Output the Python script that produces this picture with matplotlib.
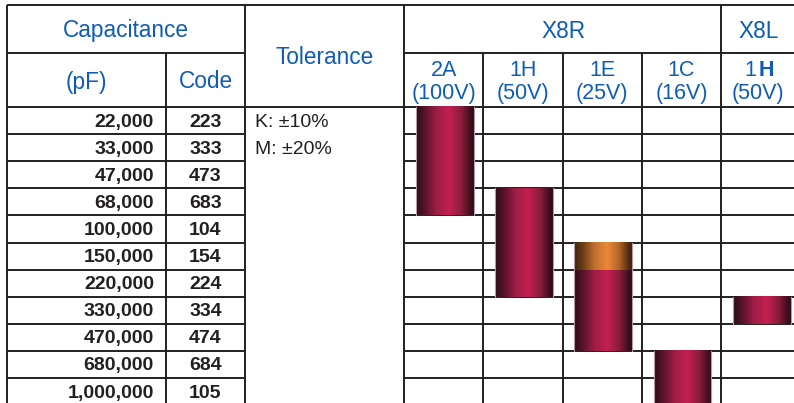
import numpy as np
import matplotlib.pyplot as plt
from matplotlib.colors import LinearSegmentedColormap

plt.rcParams['font.family'] = ['Liberation Sans', 'DejaVu Sans']

# table data
caps = ['22,000', '33,000', '47,000', '68,000', '100,000', '150,000',
        '220,000', '330,000', '470,000', '680,000', '1,000,000']
codes = ['223', '333', '473', '683', '104', '154', '224', '334', '474', '684', '105']
tolerances = ['K: \u00b110%', 'M: \u00b120%']

# rated voltage columns
volt_codes = ['2A', '1H', '1E', '1C', '1H']
volt_values = ['(100V)', '(50V)', '(25V)', '(16V)', '(50V)']
groups = ['X8R', 'X8L']
group_span = [4, 1]

# bar ranges (capacitance, first / last row) and the orange top part
bar_low = ['22,000', '68,000', '150,000', '680,000', '330,000']
bar_high = ['68,000', '220,000', '470,000', '1,000,000', '330,000']
orange_caps = [None, None, '150,000', None, None]

BLUE = '#0e5cb5'
INK = '#231f20'
LW = 1.4

# layout in pixels
W, H = 794, 403
left_x = [7, 166, 245, 404]
col_x0, col_w = 404, 79.3
row_y0, row_h = 107, 27.1
top_y, mid_y = 5, 53

fig = plt.figure(figsize=(W / 100, H / 100), dpi=100)
ax = fig.add_axes([0, 0, 1, 1])
ax.set_xlim(0, W)
ax.set_ylim(H, 0)
ax.axis('off')

n_rows = len(caps)
n_cols = len(volt_codes)
col_edges = [col_x0 + i * col_w for i in range(n_cols + 1)]
row_edges = [row_y0 + i * row_h for i in range(n_rows + 1)]


def hline(y, x0, x1):
    ax.plot([x0, x1], [y, y], color=INK, lw=LW, solid_capstyle='butt', zorder=1)


def vline(x, y0, y1):
    ax.plot([x, x], [y0, y1], color=INK, lw=LW, solid_capstyle='butt', zorder=1)


# grid lines
hline(top_y, left_x[0], W)
hline(mid_y, left_x[0], left_x[2])
hline(mid_y, col_x0, W)
for y in row_edges[:-1]:
    hline(y, left_x[0], left_x[2])
    hline(y, col_x0, W)
hline(row_y0, left_x[2], col_x0)
vline(left_x[0], top_y, H)
vline(left_x[1], mid_y, H)
vline(left_x[2], top_y, H)
vline(left_x[3], top_y, H)
gx = col_edges[0]
for span in group_span:
    gx = gx + span * col_w
    if gx < W:
        vline(gx, top_y, H)
for i in range(1, n_cols):
    if i not in np.cumsum(group_span):
        vline(col_edges[i], mid_y, H)

# header text
ax.text((left_x[0] + left_x[2]) / 2, 30, 'Capacitance', color=BLUE, fontsize=16.3,
        ha='center', va='center')
ax.text((left_x[0] + left_x[1]) / 2, 82, '(pF)', color=BLUE, fontsize=16.3,
        ha='center', va='center')
ax.text((left_x[1] + left_x[2]) / 2, 82, 'Code', color=BLUE, fontsize=16.3,
        ha='center', va='center')
ax.text((left_x[2] + left_x[3]) / 2, 57, 'Tolerance', color=BLUE, fontsize=16.3,
        ha='center', va='center')
start = 0
for g, span in zip(groups, group_span):
    cx = (col_edges[start] + min(col_edges[start + span], W)) / 2
    ax.text(cx + 1, 31, g, color=BLUE, fontsize=16.3, ha='center', va='center')
    start += span
for i, (vc, vv) in enumerate(zip(volt_codes, volt_values)):
    cx = (col_edges[i] + min(col_edges[i + 1], W)) / 2
    if i < group_span[0]:
        ax.text(cx, 70, vc, color=BLUE, fontsize=15.5, ha='center', va='center')
    else:
        ax.text(cx - 1, 71, vc[0], color=BLUE, fontsize=15.5, ha='right', va='center')
        ax.text(cx + 1, 71, vc[1:], color=BLUE, fontsize=15.5, fontweight='bold',
                ha='left', va='center')
    ax.text(cx, 93, vv, color=BLUE, fontsize=15.5, ha='center', va='center')

# body text
for r, (c, code) in enumerate(zip(caps, codes)):
    cy = row_edges[r] + row_h / 2 + 1.5
    ax.text(left_x[1] - 12, cy, c, color=INK, fontsize=14, fontweight='bold',
            ha='right', va='center')
    ax.text((left_x[1] + left_x[2]) / 2, cy, code, color=INK, fontsize=14,
            fontweight='bold', ha='center', va='center')
for r, t in enumerate(tolerances):
    ax.text(left_x[2] + 10, row_edges[r] + row_h / 2 + 1.5, t, color=INK, fontsize=14,
            ha='left', va='center')

# shaded cylinders
red_cmap = LinearSegmentedColormap.from_list('red', [
    (0.0, '#2e0c18'), (0.12, '#4c1226'), (0.35, '#9c1d46'), (0.58, '#c42050'),
    (0.78, '#8a1c3c'), (0.92, '#4a1022'), (1.0, '#2c0a16')])
orange_cmap = LinearSegmentedColormap.from_list('orange', [
    (0.0, '#3c2410'), (0.15, '#6a3c16'), (0.35, '#c06e2c'), (0.58, '#ea8a3a'),
    (0.78, '#b0642a'), (0.92, '#603414'), (1.0, '#382010')])
grad = np.linspace(0, 1, 256).reshape(1, -1)
bar_frac = 0.73

for i in range(n_cols):
    r0 = caps.index(bar_low[i])
    r1 = caps.index(bar_high[i])
    cx = (col_edges[i] + col_edges[i + 1]) / 2
    x0 = cx - bar_frac * col_w / 2 + 1
    x1 = cx + bar_frac * col_w / 2 + 1
    y0 = row_edges[r0]
    y1 = row_edges[r1 + 1]
    ax.imshow(grad, cmap=red_cmap, extent=(x0, x1, y1, y0), aspect='auto',
              interpolation='bilinear', zorder=3)
    if orange_caps[i] is not None:
        ro = caps.index(orange_caps[i])
        ax.imshow(grad, cmap=orange_cmap,
                  extent=(x0, x1, row_edges[ro + 1], row_edges[ro]),
                  aspect='auto', interpolation='bilinear', zorder=4)
    for x in (x0, x1):
        ax.plot([x, x], [y0, y1], color='#b49aa4', lw=0.8, zorder=5)

ax.set_xlim(0, W)
ax.set_ylim(H, 0)
fig.savefig('out.png', dpi=100)
